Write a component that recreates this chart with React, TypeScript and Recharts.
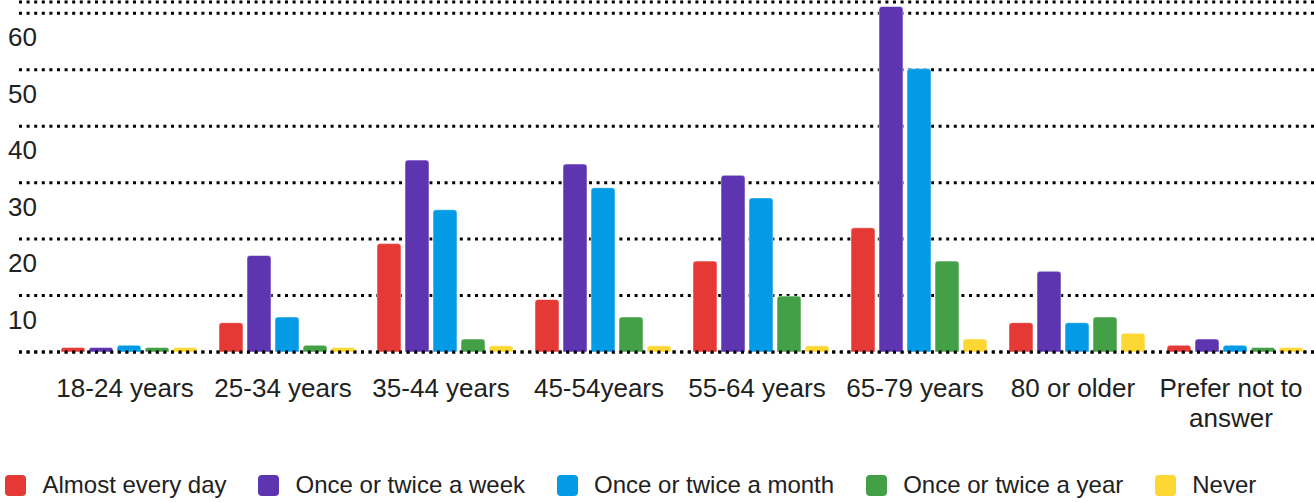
import { Bar, BarChart, CartesianGrid, XAxis, YAxis } from "recharts";

const categories = [
  "18-24 years",
  "25-34 years",
  "35-44 years",
  "45-54years",
  "55-64 years",
  "65-79 years",
  "80 or older",
  "Prefer not to answer",
];

const almostEveryDay = [0.8, 5.2, 19.2, 9.3, 16.1, 22, 5.2, 1.2];
const onceTwiceWeek = [0.8, 17.1, 34, 33.3, 31.3, 61.2, 14.3, 2.3];
const onceTwiceMonth = [1.2, 6.2, 25.2, 29.1, 27.3, 50.2, 5.2, 1.2];
const onceTwiceYear = [0.8, 1.2, 2.3, 6.2, 9.9, 16.1, 6.2, 0.8];
const never = [0.8, 0.8, 1.1, 1.1, 1.1, 2.3, 3.3, 0.8];

const yTicks = [0, 10, 20, 30, 40, 50, 60];

const series = [
  { key: "almost", name: "Almost every day", color: "#E53935", values: almostEveryDay },
  { key: "week", name: "Once or twice a week", color: "#5E35B1", values: onceTwiceWeek },
  { key: "month", name: "Once or twice a month", color: "#039BE5", values: onceTwiceMonth },
  { key: "year", name: "Once or twice a year", color: "#43A047", values: onceTwiceYear },
  { key: "never", name: "Never", color: "#FDD835", values: never },
];

const data = categories.map((name, i) => {
  const row: Record<string, string | number> = { name };
  series.forEach((s) => {
    row[s.key] = s.values[i];
  });
  return row;
});

const FONT = "'Liberation Sans', Arial, sans-serif";
const TEXT = "#212121";

// split long labels into two lines, like the original
function wrapLabel(label: string, max = 14): string[] {
  if (label.length <= max) return [label];
  const cut = label.lastIndexOf(" ", max);
  return [label.slice(0, cut), label.slice(cut + 1)];
}

function renderXTick({ x, y, payload }: any) {
  const lines = wrapLabel(String(payload.value));
  return (
    <text x={x - 4} y={y + 45} textAnchor="middle" fill={TEXT} fontSize={26} fontFamily={FONT}>
      {lines.map((line, i) => (
        <tspan key={line} x={x - 4} dy={i === 0 ? 0 : 30}>
          {line}
        </tspan>
      ))}
    </text>
  );
}

function renderYTick({ y, payload }: any) {
  if (payload.value === 0) return <g />;
  return (
    <text x={8} y={y + 33} textAnchor="start" fill={TEXT} fontSize={26} fontFamily={FONT}>
      {payload.value}
    </text>
  );
}

export default function App() {
  return (
    <div style={{ position: "absolute", left: 0, top: 0, width: 1314, height: 502, background: "#fff" }}>
      <BarChart
        width={1314}
        height={502}
        data={data}
        margin={{ top: 2, right: 0, bottom: 0, left: 9 }}
        barSize={24}
        barGap={4}
      >
        <CartesianGrid vertical={false} stroke="#000" strokeWidth={3} strokeDasharray="3 4.6" />
        <YAxis
          width={10}
          domain={[0, 62]}
          ticks={yTicks}
          axisLine={false}
          tickLine={false}
          tick={renderYTick}
        />
        {series.map((s) => (
          <Bar
            key={s.key}
            dataKey={s.key}
            name={s.name}
            fill={s.color}
            radius={[3, 3, 0, 0]}
            stroke="rgba(255,255,255,0.5)"
            strokeWidth={1}
            isAnimationActive={false}
          />
        ))}
        <XAxis
          dataKey="name"
          height={150}
          padding={{ left: 31, right: 0 }}
          interval={0}
          tickLine={false}
          tickSize={0}
          tickMargin={0}
          axisLine={{ stroke: "#000", strokeWidth: 3, strokeDasharray: "3 4.6" }}
          tick={renderXTick}
        />
      </BarChart>
      <div
        style={{
          position: "absolute",
          left: 5,
          top: 470,
          display: "flex",
          alignItems: "center",
          gap: 31.5,
          fontFamily: FONT,
          fontSize: 24,
          lineHeight: "30px",
          color: TEXT,
          whiteSpace: "nowrap",
        }}
      >
        {series.map((s) => (
          <div key={s.key} style={{ display: "flex", alignItems: "center", gap: 16.5 }}>
            <span style={{ width: 21, height: 21, borderRadius: 4, background: s.color, display: "inline-block" }} />
            <span>{s.name}</span>
          </div>
        ))}
      </div>
    </div>
  );
}
